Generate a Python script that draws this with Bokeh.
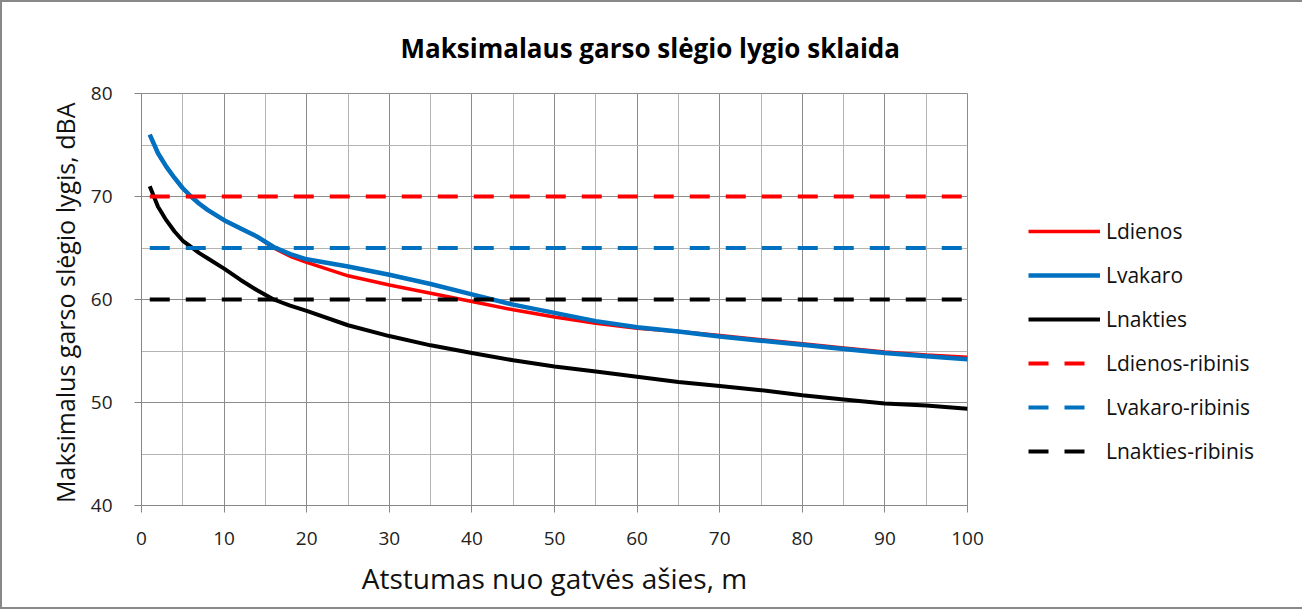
from bokeh.plotting import figure
from bokeh.models import (Range1d, SingleIntervalTicker, Legend, LegendItem, Title, ColumnDataSource)
from bokeh.embed import file_html
from bokeh.resources import INLINE

# ---- data ----
x_vals = [1, 2, 3, 4, 5, 6, 7, 8, 10, 12, 14, 16, 18, 20, 25, 30, 35, 40, 45, 50,
          55, 60, 65, 70, 75, 80, 85, 90, 95, 100]
l_dienos = [76.0, 74.2, 72.9, 71.8, 70.8, 70.0, 69.3, 68.7, 67.7, 66.9, 66.1, 65.0, 64.2, 63.6,
            62.3, 61.4, 60.6, 59.8, 59.0, 58.3, 57.7, 57.2, 56.9, 56.5, 56.1, 55.7, 55.3, 54.9,
            54.6, 54.4]
l_vakaro = [76.0, 74.2, 72.9, 71.8, 70.8, 70.0, 69.3, 68.7, 67.7, 66.9, 66.1, 65.1, 64.4, 63.9,
            63.2, 62.4, 61.5, 60.5, 59.5, 58.7, 57.9, 57.3, 56.9, 56.4, 56.0, 55.6, 55.2, 54.8,
            54.5, 54.2]
l_nakties = [71.0, 69.0, 67.7, 66.6, 65.7, 65.1, 64.5, 64.0, 63.0, 61.9, 60.9, 60.0, 59.4, 58.9,
             57.5, 56.45, 55.55, 54.8, 54.1, 53.5, 53.0, 52.5, 52.0, 51.6, 51.2, 50.7, 50.3, 49.9,
             49.7, 49.4]
limit_x = [1, 100]
limit_dienos = 70
limit_vakaro = 65
limit_nakties = 60

series_names = ["Ldienos", "Lvakaro", "Lnakties",
                "Ldienos-ribinis", "Lvakaro-ribinis", "Lnakties-ribinis"]
title_text = "Maksimalaus garso slėgio lygio sklaida"
x_label = "Atstumas nuo gatvės ašies, m"
y_label = "Maksimalus  garso slėgio lygis, dBA"

FONT = "Open Sans"
GRID = "#8c8c8c"
MINOR_GRID = "#b4b4b4"
AXIS = "#868686"
RED = "#ff0000"
BLUE = "#0070c0"
BLACK = "#000000"

p = figure(frame_width=826, frame_height=412, output_backend="svg", toolbar_location=None,
           x_range=Range1d(0, 100), y_range=Range1d(40, 80),
           min_border_left=141, min_border_right=0, min_border_top=92, min_border_bottom=104)
p.styles = {"box-shadow": "inset 0 0 0 2px #888888", "background-color": "white"}
p.background_fill_color = "white"
p.border_fill_color = None
p.outline_line_color = GRID

p.xaxis.ticker = SingleIntervalTicker(interval=10, num_minor_ticks=2)
p.yaxis.ticker = SingleIntervalTicker(interval=10, num_minor_ticks=2)
for ax in (p.xaxis[0], p.yaxis[0]):
    ax.axis_line_color = AXIS
    ax.axis_line_width = 1
    ax.major_tick_line_color = AXIS
    ax.major_tick_in = 0
    ax.major_tick_out = 7
    ax.minor_tick_line_color = None
    ax.major_label_text_font = FONT
    ax.major_label_text_font_size = "19px"
    ax.major_label_text_color = "#222222"
    ax.axis_label_text_font = FONT
    ax.axis_label_text_font_style = "normal"
    ax.axis_label_text_color = "#111111"
p.xaxis.major_label_standoff = 19
p.yaxis.major_label_standoff = 22
p.xaxis.axis_label = x_label
p.xaxis.axis_label_text_font_size = "28px"
p.xaxis.axis_label_standoff = 11
p.yaxis.axis_label = y_label
p.yaxis.axis_label_text_font_size = "25px"
p.yaxis.axis_label_standoff = 6

p.xgrid.grid_line_color = GRID
p.ygrid.grid_line_color = GRID
p.xgrid.minor_grid_line_color = MINOR_GRID
p.ygrid.minor_grid_line_color = MINOR_GRID

src = ColumnDataSource(dict(x=x_vals, d=l_dienos, v=l_vakaro, n=l_nakties))
r1 = p.line("x", "d", source=src, line_color=RED, line_width=3.5, line_join="round")
r2 = p.line("x", "v", source=src, line_color=BLUE, line_width=4.5, line_join="round")
r3 = p.line("x", "n", source=src, line_color=BLACK, line_width=4, line_join="round")
r4 = p.line(limit_x, [limit_dienos] * 2, line_color=RED, line_width=4, line_dash="20 16")
r5 = p.line(limit_x, [limit_vakaro] * 2, line_color=BLUE, line_width=4, line_dash="20 16")
r6 = p.line(limit_x, [limit_nakties] * 2, line_color=BLACK, line_width=4, line_dash="20 16")

t = Title(text=title_text, align="left", offset=259, standoff=55,
          text_font=FONT, text_font_size="26px", text_font_style="bold", text_color="#000000")
p.add_layout(t, "above")

legend = Legend(items=[LegendItem(label=n, renderers=[r]) for n, r in
                       zip(series_names, [r1, r2, r3, r4, r5, r6])],
                location=(61, 40), orientation="vertical",
                glyph_width=72, glyph_height=20, spacing=16, label_standoff=6,
                padding=0, margin=0, border_line_color=None, background_fill_alpha=0,
                label_text_font=FONT, label_text_font_size="21px", label_text_color="#111111",
                label_height=20)
p.add_layout(legend, "right")

open("out.html", "w").write(file_html(p, INLINE))
